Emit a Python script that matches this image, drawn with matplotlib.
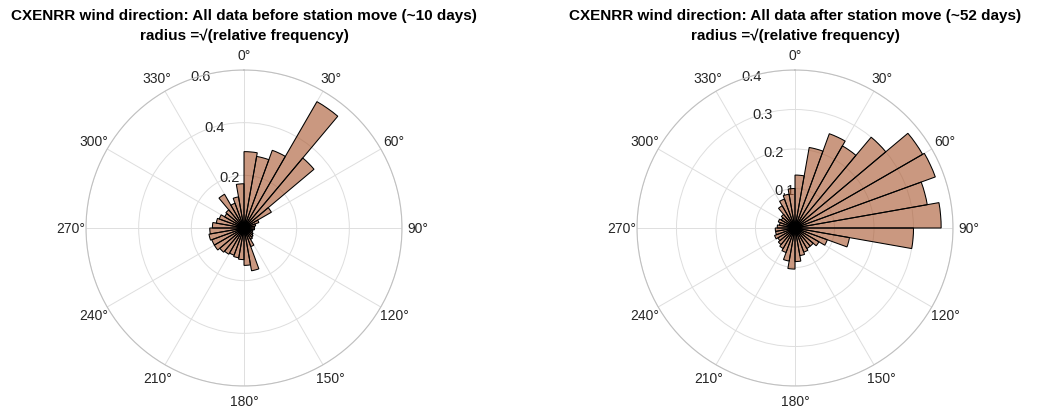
import numpy as np
import matplotlib
matplotlib.use("Agg")
import matplotlib.pyplot as plt

plt.rcParams['font.family'] = ['Liberation Sans', 'DejaVu Sans']

# 10 degree direction bins, clockwise from north
bin_edges_deg = np.arange(0, 360, 10)

# sqrt(relative frequency) per bin, before the station move
before_r = [0.29, 0.276, 0.314, 0.554, 0.347, 0.12, 0.06, 0.045, 0.04,
            0.04, 0.035, 0.035, 0.04, 0.045, 0.05, 0.075, 0.165, 0.142,
            0.12, 0.115, 0.11, 0.115, 0.12, 0.13, 0.13, 0.135, 0.13,
            0.12, 0.107, 0.10, 0.085, 0.09, 0.148, 0.10, 0.12, 0.168]

# sqrt(relative frequency) per bin, after the station move
after_r = [0.134, 0.207, 0.254, 0.24, 0.30, 0.373, 0.378, 0.34, 0.37,
           0.30, 0.14, 0.087, 0.07, 0.06, 0.06, 0.065, 0.071, 0.085,
           0.104, 0.085, 0.066, 0.06, 0.055, 0.05, 0.055, 0.05, 0.05,
           0.045, 0.04, 0.045, 0.04, 0.045, 0.065, 0.078, 0.087, 0.10]

titles = ["CXENRR wind direction: All data before station move (~10 days)\nradius =\u221a(relative frequency)",
          "CXENRR wind direction: All data after station move (~52 days)\nradius =\u221a(relative frequency)"]
rticks = [[0.2, 0.4, 0.6], [0.1, 0.2, 0.3, 0.4]]
rmax = [0.6, 0.4]

theta_ticks = np.arange(0, 360, 30)
theta_labels = ["%d\u00b0" % t for t in theta_ticks]

face = (0.66, 0.33, 0.17)
txt = '#262626'

fig = plt.figure(figsize=(10.37, 4.10), dpi=100)
boxes = [[86/1037, 23/410, 316/1037, 316/410],
         [637/1037, 23/410, 316/1037, 316/410]]
centers_x = [244/1037, 795/1037]

for i, radii in enumerate([before_r, after_r]):
    ax = fig.add_axes(boxes[i], projection='polar')
    ax.set_theta_zero_location('N')
    ax.set_theta_direction(-1)
    ax.set_axisbelow(True)
    ax.bar(np.deg2rad(bin_edges_deg), radii, width=np.deg2rad(10), align='edge',
           color=face, alpha=0.6, edgecolor='none', zorder=2)
    ax.bar(np.deg2rad(bin_edges_deg), radii, width=np.deg2rad(10), align='edge',
           facecolor='none', edgecolor='black', linewidth=0.75, zorder=3)
    ax.set_ylim(0, rmax[i])
    ax.set_yticks(rticks[i])
    ax.set_yticklabels([])
    # r labels sit along a ray just west of north, under the bars
    for v in rticks[i]:
        ax.text(np.deg2rad(344), v, "%g" % v, ha='center', va='center',
                fontsize=10.5, color=txt, zorder=1)
    ax.set_thetagrids(theta_ticks, theta_labels)
    ax.tick_params(axis='x', pad=0.6, labelsize=10, colors=txt)
    ax.grid(True, color='#dedede', linewidth=0.7)
    ax.spines['polar'].set_color('#c0c0c0')
    ax.spines['polar'].set_linewidth(0.8)
    fig.text(centers_x[i], 1 - 26/410, titles[i], ha='center', va='center',
             fontsize=11, fontweight='bold', color='black', linespacing=1.5)

fig.savefig("out.png", dpi=100)
